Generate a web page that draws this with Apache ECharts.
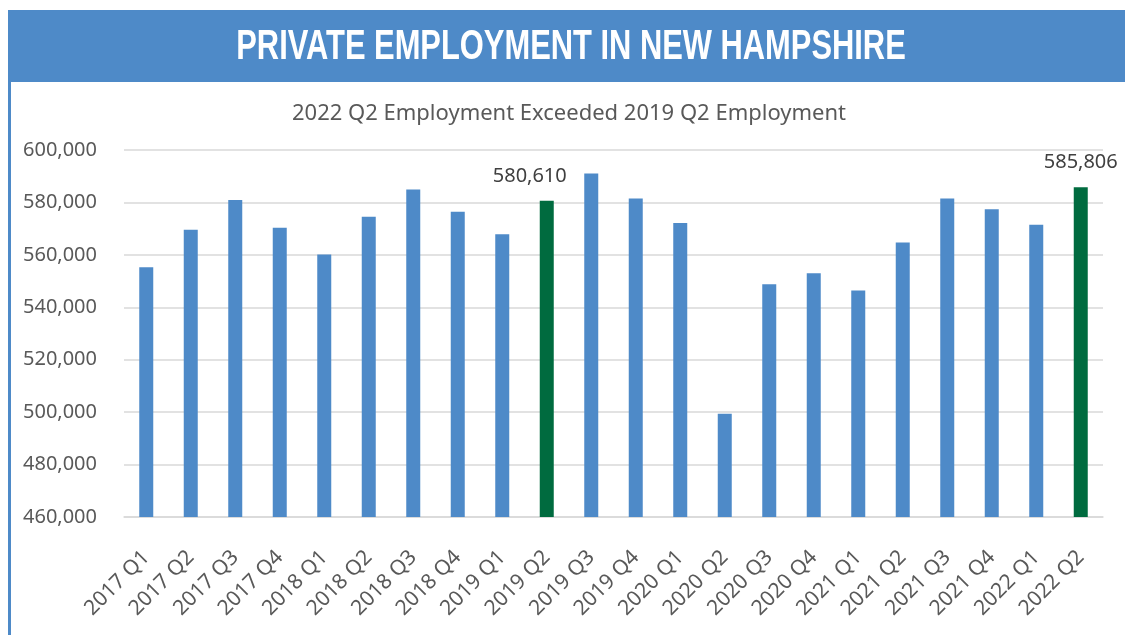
<!DOCTYPE html>
<html>
<head>
<meta charset="utf-8">
<script src="https://cdn.jsdelivr.net/npm/echarts@6/dist/echarts.min.js"></script>
<style>
html,body{margin:0;padding:0;background:#fff;}
#chart{width:1125px;height:635px;}
</style>
</head>
<body>
<div id="chart"></div>
<script>
var categories = ['2017 Q1','2017 Q2','2017 Q3','2017 Q4','2018 Q1','2018 Q2','2018 Q3','2018 Q4',
  '2019 Q1','2019 Q2','2019 Q3','2019 Q4','2020 Q1','2020 Q2','2020 Q3','2020 Q4',
  '2021 Q1','2021 Q2','2021 Q3','2021 Q4','2022 Q1','2022 Q2'];
var employment = [555300, 569600, 580900, 570300, 560100, 574500, 584900, 576400,
  567900, 580610, 591000, 581500, 572200, 499400, 548800, 553000,
  546400, 564700, 581500, 577400, 571500, 585806];
var highlighted = ['2019 Q2', '2022 Q2'];
var yTicks = [460000, 600000, 20000]; // min, max, interval
var titleText = 'PRIVATE EMPLOYMENT IN NEW HAMPSHIRE';
var subtitleText = '2022 Q2 Employment Exceeded 2019 Q2 Employment';

var BLUE = '#4E8AC8', GREEN = '#006B3F', FONT = '"Noto Sans", "Open Sans", sans-serif';
function fmt(v){ return v.toString().replace(/\B(?=(\d{3})+(?!\d))/g, ','); }

var labelOffsets = {'2019 Q2':[-17, -10], '2022 Q2':[0, -10]};
var barData = employment.map(function(v, i){
  var c = categories[i];
  var hl = highlighted.indexOf(c) >= 0;
  var item = {value: v, itemStyle: {color: hl ? GREEN : BLUE}};
  if (hl) {
    item.label = {show: true, position: 'top', offset: labelOffsets[c],
      formatter: function(p){ return fmt(p.value); },
      fontSize: 20, color: '#404040', fontFamily: FONT};
  }
  return item;
});

var chart = echarts.init(document.getElementById('chart'));
chart.setOption({
  backgroundColor: '#fff',
  animation: false,
  title: {text: subtitleText, left: 564, textAlign: 'center', top: 98,
    textStyle: {fontSize: 22, fontWeight: 'normal', color: '#595959', fontFamily: FONT}},
  graphic: [
    {type: 'rect', shape: {x: 8, y: 10, width: 1117, height: 72}, style: {fill: BLUE}, z: 0},
    {type: 'rect', shape: {x: 8, y: 82, width: 3, height: 553}, style: {fill: BLUE}, z: 0},
    {type: 'text', x: 571, y: 47, scaleX: 0.735, z: 1,
      style: {text: titleText, fill: '#fff', font: 'bold 42px "Liberation Sans", Arial, sans-serif',
        textAlign: 'center', textVerticalAlign: 'middle'}}
  ],
  grid: {left: 124, right: 22, top: 150, bottom: 118, containLabel: false},
  xAxis: {
    type: 'category', data: categories,
    axisLine: {lineStyle: {color: '#d9d9d9', width: 1.5}},
    axisTick: {show: false},
    axisLabel: {rotate: 45, interval: 0, fontSize: 21, color: '#595959', fontFamily: FONT, margin: 37}
  },
  yAxis: {
    type: 'value', min: yTicks[0], max: yTicks[1], interval: yTicks[2],
    axisLine: {show: false}, axisTick: {show: false},
    axisLabel: {fontSize: 20, color: '#595959', fontFamily: FONT, margin: 27,
      formatter: function(v){ return fmt(v); }},
    splitLine: {lineStyle: {color: '#d9d9d9', width: 1.5}}
  },
  series: [{type: 'bar', data: barData, barWidth: 14}]
});
</script>
</body>
</html>
